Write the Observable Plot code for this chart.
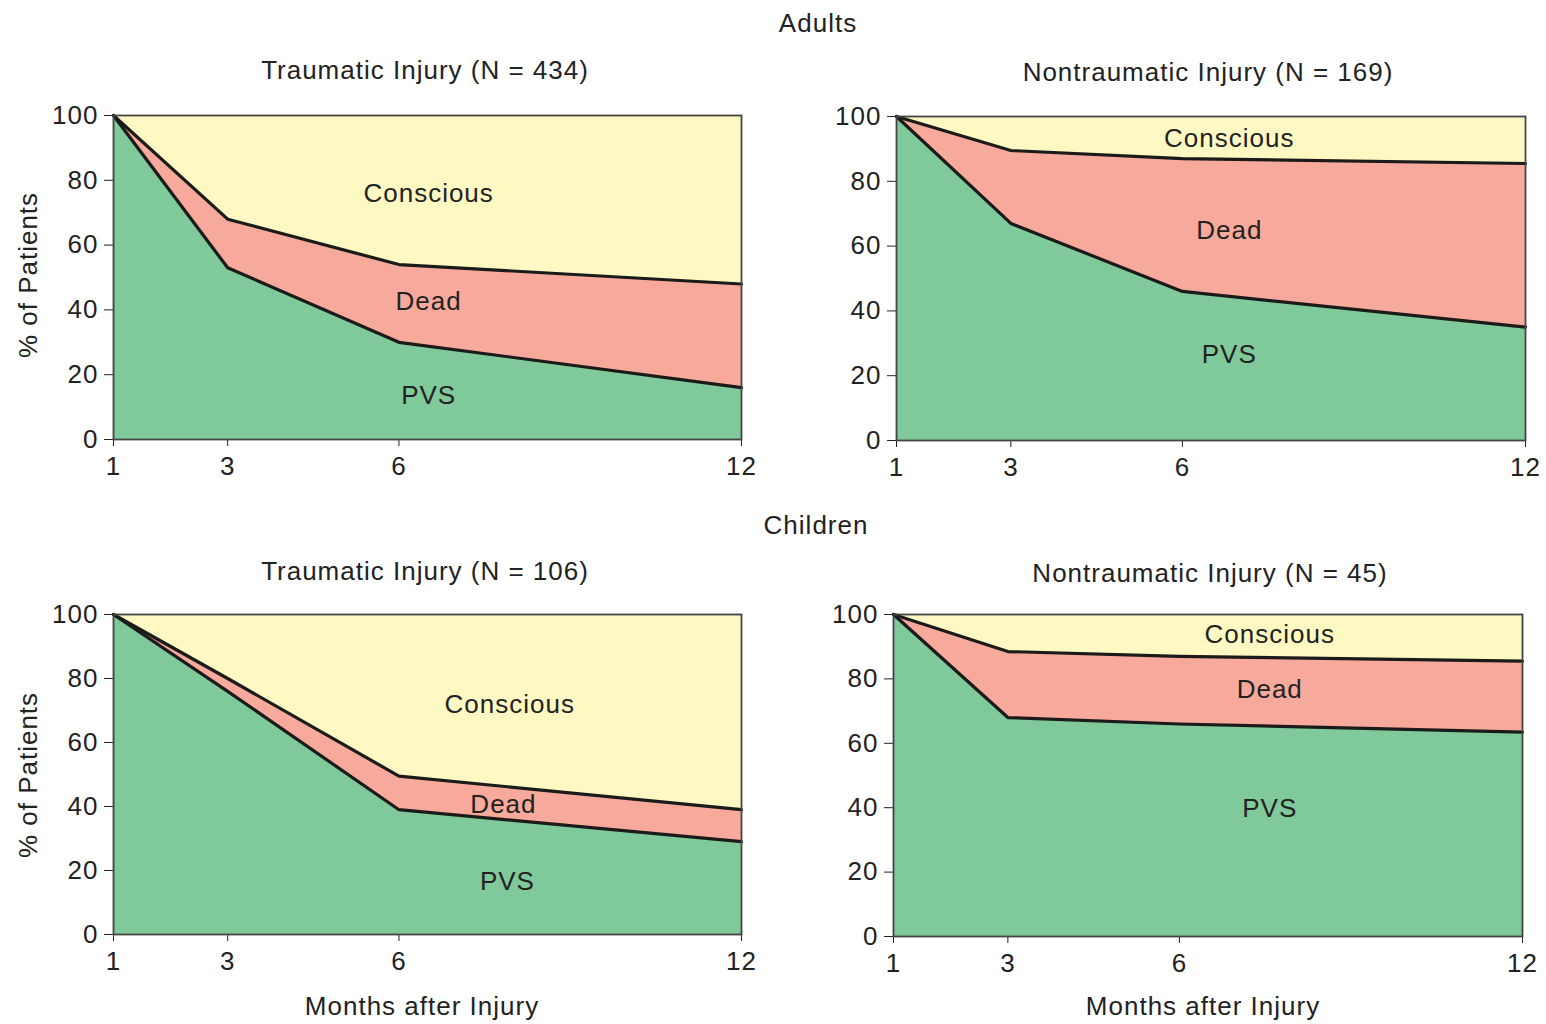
<!DOCTYPE html>
<html>
<head>
<meta charset="utf-8">
<script src="https://cdn.jsdelivr.net/npm/d3@7"></script>
<script src="https://cdn.jsdelivr.net/npm/@observablehq/plot@0.6"></script>
<style>
  html, body { margin: 0; padding: 0; background: #ffffff; }
  #root { position: relative; width: 1546px; height: 1024px; overflow: hidden;
          font-family: "Liberation Sans", Arial, sans-serif; color: #222; }
  .t { position: absolute; transform: translate(-50%, -50%); white-space: nowrap;
       font-size: 26px; line-height: 1; letter-spacing: 1px; }
  .yl { position: absolute; transform: translate(-50%, -50%) rotate(-90deg); white-space: nowrap;
        font-size: 26px; line-height: 1; letter-spacing: 1px; }
  .p { position: absolute; }
</style>
</head>
<body>
<div id="root"></div>
<script>
// ---- data ----
const months = [1, 3, 6, 12];
const monthTicks = [1, 3, 6, 12];
const yTicks = [0, 20, 40, 60, 80, 100];
const statuses = ["PVS", "Dead", "Conscious"];
const statusColors = ["#80c99b", "#f7a99c", "#fef9c3"];

// Adults, traumatic injury (N = 434)
const adultTraumaPVS       = [100, 53, 30, 16];
const adultTraumaDead      = [0, 15, 24, 32];
const adultTraumaConscious = [0, 32, 46, 52];

// Adults, nontraumatic injury (N = 169)
const adultNontraumaPVS       = [100, 67, 46, 35];
const adultNontraumaDead      = [0, 22.5, 41, 50.5];
const adultNontraumaConscious = [0, 10.5, 13, 14.5];

// Children, traumatic injury (N = 106)
const childTraumaPVS       = [100, 76, 39, 29];
const childTraumaDead      = [0, 4, 10.5, 10];
const childTraumaConscious = [0, 20, 50.5, 61];

// Children, nontraumatic injury (N = 45)
const childNontraumaPVS       = [100, 68, 66, 63.5];
const childNontraumaDead      = [0, 20.5, 21, 22];
const childNontraumaConscious = [0, 11.5, 13, 14.5];

// in-chart labels (data coordinates)
const adultTraumaLabels = [
  {month: 6.52, pct: 76, text: "Conscious"},
  {month: 6.52, pct: 42.6, text: "Dead"},
  {month: 6.52, pct: 13.6, text: "PVS"}
];
const adultNontraumaLabels = [
  {month: 6.82, pct: 93.2, text: "Conscious"},
  {month: 6.82, pct: 64.8, text: "Dead"},
  {month: 6.82, pct: 26.5, text: "PVS"}
];
const childTraumaLabels = [
  {month: 7.94, pct: 71.9, text: "Conscious"},
  {month: 7.83, pct: 40.6, text: "Dead"},
  {month: 7.9, pct: 16.6, text: "PVS"}
];
const childNontraumaLabels = [
  {month: 7.58, pct: 93.8, text: "Conscious"},
  {month: 7.58, pct: 76.7, text: "Dead"},
  {month: 7.58, pct: 39.8, text: "PVS"}
];

const titles = {
  adults: "Adults",
  children: "Children",
  at: "Traumatic Injury (N = 434)",
  an: "Nontraumatic Injury (N = 169)",
  ct: "Traumatic Injury (N = 106)",
  cn: "Nontraumatic Injury (N = 45)",
  xLabel: "Months after Injury",
  yLabel: "% of Patients"
};

// ---- drawing ----
const root = document.getElementById("root");

function addText(cls, text, x, y) {
  const d = document.createElement("div");
  d.className = cls;
  d.textContent = text;
  d.style.left = x + "px";
  d.style.top = y + "px";
  root.appendChild(d);
}

function panel(pvs, dead, conscious, labels, box) {
  const rows = [];
  months.forEach((m, i) => {
    rows.push({month: m, status: "PVS", value: pvs[i]});
    rows.push({month: m, status: "Dead", value: dead[i]});
    rows.push({month: m, status: "Conscious", value: conscious[i]});
  });
  const chart = Plot.plot({
    width: box.width,
    height: box.height,
    marginLeft: box.ml,
    marginRight: box.mr,
    marginTop: box.mt,
    marginBottom: box.mb,
    style: {fontFamily: '"Liberation Sans", Arial, sans-serif', fontSize: "26px", letterSpacing: "1px",
            color: "#222", background: "transparent", overflow: "visible"},
    x: {domain: [1, 12], ticks: monthTicks, tickFormat: d => String(d), tickSize: 7, tickPadding: 10, label: null},
    y: {domain: [0, 100], ticks: yTicks, tickSize: 9, tickPadding: 6, label: null},
    color: {domain: statuses, range: statusColors},
    marks: [
      Plot.areaY(rows, {x: "month", y: "value", fill: "status", order: statuses}),
      Plot.lineY(rows.filter(d => d.status !== "Conscious"),
        Plot.stackY2({x: "month", y: "value", z: "status", order: statuses,
                      stroke: "#1b1b1b", strokeWidth: 3.2, strokeLinejoin: "round"})),
      Plot.frame({stroke: "#444", strokeWidth: 1.8}),
      Plot.text(labels, {x: "month", y: "pct", text: "text", fontSize: 26, fill: "#222"})
    ]
  });
  chart.classList.add("p");
  chart.style.left = box.left + "px";
  chart.style.top = box.top + "px";
  root.appendChild(chart);
}

panel(adultTraumaPVS, adultTraumaDead, adultTraumaConscious, adultTraumaLabels,
      {left: 0, top: 90, width: 780, height: 400, ml: 113, mr: 39, mt: 25, mb: 51});
panel(adultNontraumaPVS, adultNontraumaDead, adultNontraumaConscious, adultNontraumaLabels,
      {left: 780, top: 90, width: 766, height: 400, ml: 116, mr: 21, mt: 26, mb: 50});
panel(childTraumaPVS, childTraumaDead, childTraumaConscious, childTraumaLabels,
      {left: 0, top: 590, width: 780, height: 434, ml: 113, mr: 39, mt: 24, mb: 90});
panel(childNontraumaPVS, childNontraumaDead, childNontraumaConscious, childNontraumaLabels,
      {left: 780, top: 590, width: 766, height: 434, ml: 113, mr: 24, mt: 24, mb: 88});

addText("t", titles.adults, 818, 23);
addText("t", titles.at, 425, 70);
addText("t", titles.an, 1208, 72);
addText("t", titles.children, 816, 525);
addText("t", titles.ct, 425, 571);
addText("t", titles.cn, 1210, 573);
addText("t", titles.xLabel, 422, 1006);
addText("t", titles.xLabel, 1203, 1006);
addText("yl", titles.yLabel, 28, 275);
addText("yl", titles.yLabel, 28, 775);
</script>
</body>
</html>
